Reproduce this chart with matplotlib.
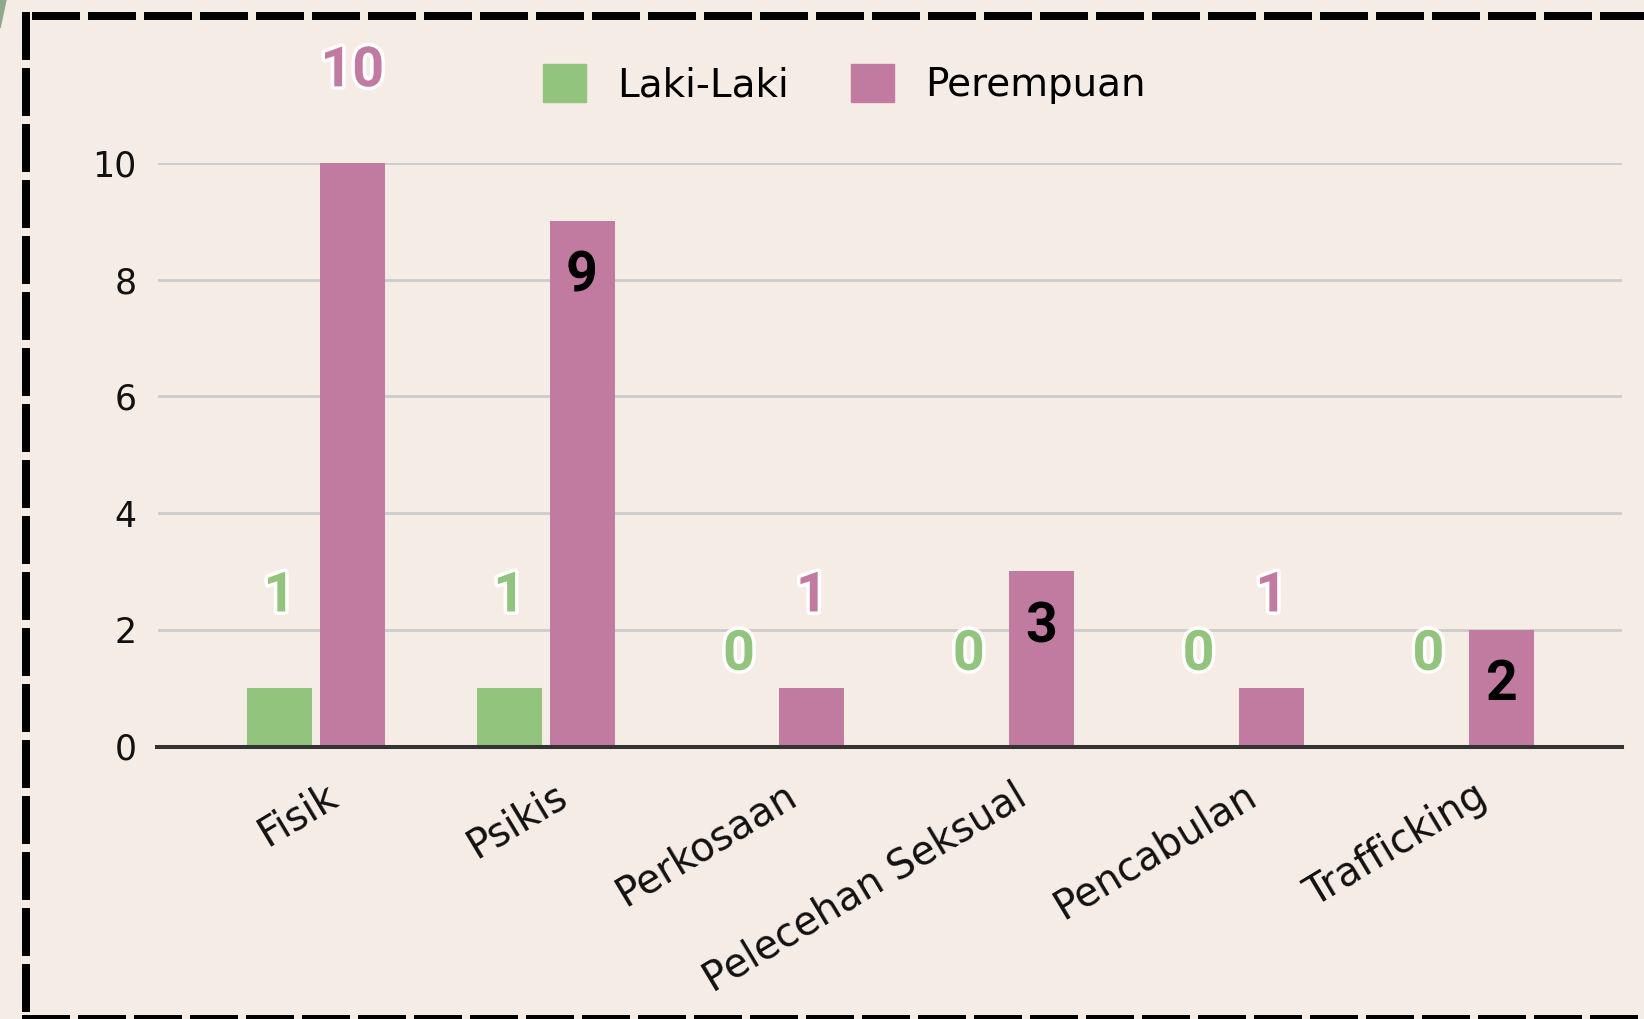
import matplotlib
matplotlib.use('Agg')
import matplotlib.pyplot as plt
import matplotlib.transforms as mtransforms
import matplotlib.patheffects as pe
from matplotlib.lines import Line2D
from matplotlib.patches import Polygon, Patch

# data
kategori = ['Fisik', 'Psikis', 'Perkosaan', 'Pelecehan Seksual', 'Pencabulan', 'Trafficking']
laki = [1, 1, 0, 0, 0, 0]
perempuan = [10, 9, 1, 3, 1, 2]
# label perempuan yang ditulis di dalam batang (seperti di gambar asli)
label_dalam = [False, True, False, True, False, True]
yticks = [0, 2, 4, 6, 8, 10]

hijau = '#93c47d'
pink = '#c27ba0'
latar = '#f5ece6'

W, H = 1644, 1019
fig = plt.figure(figsize=(W / 100, H / 100), dpi=100, facecolor=latar)
ax = fig.add_axes([157.5 / W, 272.5 / H, (1622 - 157.5) / W, (746.5 - 163) / H])
ax.set_facecolor(latar)

x = list(range(len(kategori)))
lebar = 0.283
geser = 0.1585
xl = [i - geser for i in x]
xp = [i + geser for i in x]
ax.bar(xl, laki, width=lebar, color=hijau, zorder=3, label='Laki-Laki')
ax.bar(xp, perempuan, width=lebar, color=pink, zorder=3, label='Perempuan')

ax.set_xlim(-0.689, 5.684)
ax.set_ylim(0, 10)
ax.set_yticks(yticks)
ax.set_yticklabels([str(v) for v in yticks], fontsize=25, color='#111111')
ax.grid(axis='y', color='#cccccc', linewidth=2, zorder=0)
for s in ['top', 'right', 'left']:
    ax.spines[s].set_visible(False)
ax.spines['bottom'].set_color('#333333')
ax.spines['bottom'].set_linewidth(2.9)
ax.spines['bottom'].set_zorder(4)
ax.tick_params(axis='y', length=0, pad=15)
ax.tick_params(axis='x', length=0, pad=21)

ax.set_xticks(x)
ax.set_xticklabels(kategori, rotation=31, ha='right', va='top',
                   rotation_mode='anchor', fontsize=28.5, color='#111111')
geser_label = mtransforms.ScaledTranslation(8 / 100, 0, fig.dpi_scale_trans)
for lbl in ax.get_xticklabels():
    lbl.set_transform(lbl.get_transform() + geser_label)

# label angka
garis = [pe.withStroke(linewidth=5, foreground='white')]
for xi, v in zip(xl, laki):
    ax.annotate(str(v), (xi, v), xytext=(0, 66), textcoords='offset points',
                ha='center', va='center', fontsize=40, fontfamily='Roboto',
                fontweight='bold', color=hijau, path_effects=garis, zorder=5,
                annotation_clip=False)
for xi, v, dalam in zip(xp, perempuan, label_dalam):
    if dalam:
        ax.annotate(str(v), (xi, v), xytext=(0, -40), textcoords='offset points',
                    ha='center', va='center', fontsize=40, fontfamily='Roboto',
                    fontweight='bold', color='black', zorder=5)
    else:
        ax.annotate(str(v), (xi, v), xytext=(0, 66), textcoords='offset points',
                    ha='center', va='center', fontsize=40, fontfamily='Roboto',
                    fontweight='bold', color=pink, path_effects=garis, zorder=5,
                    annotation_clip=False)

# legenda
tanda = [Patch(color=hijau, label='Laki-Laki'), Patch(color=pink, label='Perempuan')]
fig.legend(handles=tanda, loc='center', bbox_to_anchor=(844 / W, 1 - 84.4 / H),
           ncol=2, frameon=False, fontsize=28, handlelength=1.1, handleheight=1.1,
           handletextpad=0.8, columnspacing=1.6, borderpad=0)

# bingkai putus-putus
gaya = dict(color='black', linewidth=5.76, linestyle=(0, (6, 1)),
            solid_capstyle='butt', dash_capstyle='butt', transform=fig.transFigure)
fig.add_artist(Line2D([26 / W, 26 / W], [1 - 12 / H, -30 / H], **gaya))
fig.add_artist(Line2D([32 / W, 1700 / W], [1 - 16 / H, 1 - 16 / H], **gaya))
fig.add_artist(Line2D([22 / W, 1700 / W], [0, 0], **gaya))

# potongan hiasan hijau di pojok kiri atas
fig.add_artist(Polygon([(0, 1), (6 / W, 1), (3 / W, 1 - 14 / H), (0, 1 - 28 / H)],
                       closed=True, color='#8fa88a', transform=fig.transFigure))

fig.savefig('out.png', dpi=100, facecolor=latar)
